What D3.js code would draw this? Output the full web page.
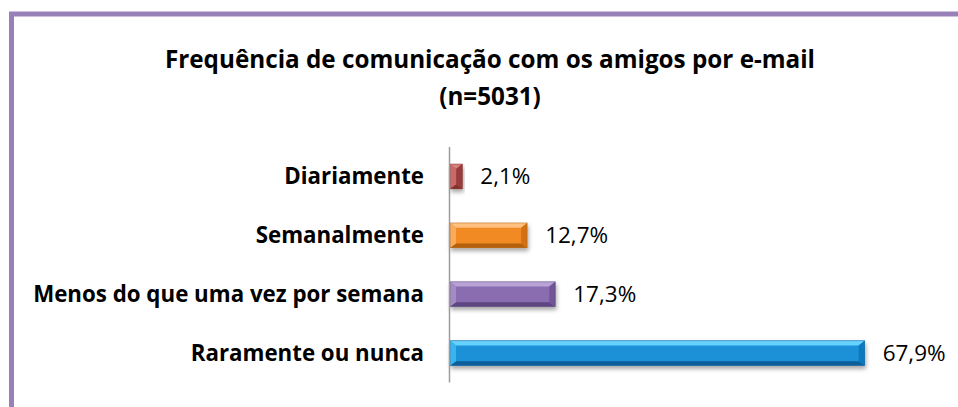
<!DOCTYPE html>
<html>
<head>
<meta charset="utf-8">
<script src="https://cdn.jsdelivr.net/npm/d3@7"></script>
<style>
  body { margin: 0; background: #fff; }
  svg { display: block; font-family: "Open Sans", "Noto Sans", sans-serif; }
</style>
</head>
<body>
<div class="chart"></div>
<script>
// Chart data
var categories = ["Diariamente", "Semanalmente", "Menos do que uma vez por semana", "Raramente ou nunca"];
var values = [2.1, 12.7, 17.3, 67.9];
var valueLabels = ["2,1%", "12,7%", "17,3%", "67,9%"];
var titleLines = ["Frequência de comunicação com os amigos por e-mail", "(n=5031)"];

// Bar colours: [top, left, centre, right, bottom]
var palette = [
  ["#d9827f", "#c96a67", "#b5504c", "#973e3b", "#7f302d"],
  ["#ffc080", "#fbaa5a", "#f18a24", "#d16f12", "#b3600e"],
  ["#b9a3d6", "#a38bc4", "#8a6cb0", "#715597", "#5c4680"],
  ["#66d2ff", "#38b5f0", "#1a91d8", "#0e78bd", "#0b5f99"]
];

var svgWidth = 958;
var svgHeight = 407;

var svg = d3.select(".chart")
  .append("svg")
  .attr("width", svgWidth)
  .attr("height", svgHeight);

var defs = svg.append("defs");
var shadow = defs.append("filter")
  .attr("id", "shadow")
  .attr("x", "-10%").attr("y", "-40%")
  .attr("width", "130%").attr("height", "200%");
shadow.append("feDropShadow")
  .attr("dx", 1).attr("dy", 3)
  .attr("stdDeviation", 2)
  .attr("flood-color", "#000")
  .attr("flood-opacity", 0.35);

// Purple frame (continues past the right and bottom edges)
svg.append("rect")
  .attr("x", 11.5)
  .attr("y", 14)
  .attr("width", 1100)
  .attr("height", 600)
  .attr("fill", "none")
  .attr("stroke", "#9a80b8")
  .attr("stroke-width", 5);

// Scales
var xScale = d3.scaleLinear().domain([0, 70]).range([449.5, 877.5]);
var yScale = d3.scaleBand()
  .domain(categories)
  .range([147, 382.5])
  .paddingInner(0.58)
  .paddingOuter(0.29);

// scale a text's font size so it takes the given width
function fitText(sel, target) {
  var w = sel.node().getComputedTextLength();
  var fs = parseFloat(sel.attr("font-size"));
  sel.attr("font-size", (fs * target / w).toFixed(2));
  return fs * target / w;
}

// Title
var title1 = svg.append("text")
  .attr("x", 490)
  .attr("y", 68)
  .attr("text-anchor", "middle")
  .attr("font-weight", "bold")
  .attr("font-size", 22)
  .attr("fill", "#000")
  .text(titleLines[0]);
var titleSize = fitText(title1, 650);

svg.append("text")
  .attr("x", 490)
  .attr("y", 105)
  .attr("text-anchor", "middle")
  .attr("font-weight", "bold")
  .attr("font-size", titleSize)
  .attr("fill", "#000")
  .text(titleLines[1]);

// Category labels
var catLabels = svg.selectAll(".cat")
  .data(categories)
  .enter()
  .append("text")
  .attr("class", "cat")
  .attr("x", 424)
  .attr("y", function(d) { return yScale(d) + yScale.bandwidth() / 2; })
  .attr("dy", "0.35em")
  .attr("text-anchor", "end")
  .attr("font-weight", "bold")
  .attr("font-size", 18)
  .attr("fill", "#000")
  .text(function(d) { return d; });

// size all category labels from the longest one
var longest = catLabels.filter(function(d, i) { return i === 2; });
var catSize = fitText(longest, 391);
catLabels.attr("font-size", catSize);

// Bars with a bevelled look
var bars = svg.selectAll(".bar")
  .data(values)
  .enter()
  .append("g")
  .attr("class", "bar")
  .attr("filter", "url(#shadow)");

bars.each(function(d, i) {
  var g = d3.select(this);
  var x0 = xScale(0) + 0.5;
  var x1 = xScale(d);
  var y0 = yScale(categories[i]);
  var y1 = y0 + yScale.bandwidth();
  var h = y1 - y0;
  var b = Math.min(6, (x1 - x0) / 2, h / 2 - 1);
  var c = palette[i];
  var pts = function(a) { return a.map(function(p) { return p.join(","); }).join(" "); };

  g.append("rect")
    .attr("x", x0).attr("y", y0)
    .attr("width", x1 - x0).attr("height", h)
    .attr("fill", c[2]);
  // top face
  g.append("polygon")
    .attr("points", pts([[x0, y0], [x1, y0], [x1 - b, y0 + b * 0.8], [x0 + b, y0 + b * 0.8]]))
    .attr("fill", c[0]);
  // bottom face
  g.append("polygon")
    .attr("points", pts([[x0, y1], [x1, y1], [x1 - b, y1 - b * 0.7], [x0 + b, y1 - b * 0.7]]))
    .attr("fill", c[4]);
  // left face
  g.append("polygon")
    .attr("points", pts([[x0, y0], [x0 + b, y0 + b * 0.8], [x0 + b, y1 - b * 0.7], [x0, y1]]))
    .attr("fill", c[1]);
  // right face
  g.append("polygon")
    .attr("points", pts([[x1, y0], [x1 - b, y0 + b * 0.8], [x1 - b, y1 - b * 0.7], [x1, y1]]))
    .attr("fill", c[3]);
  g.append("rect")
    .attr("x", x0).attr("y", y0)
    .attr("width", x1 - x0).attr("height", h)
    .attr("fill", "none")
    .attr("stroke", c[4])
    .attr("stroke-opacity", 0.6)
    .attr("stroke-width", 0.8);
});

// Value labels
var valLabels = svg.selectAll(".val")
  .data(values)
  .enter()
  .append("text")
  .attr("class", "val")
  .attr("x", function(d) { return xScale(d) + 18; })
  .attr("y", function(d, i) { return yScale(categories[i]) + yScale.bandwidth() / 2; })
  .attr("dy", "0.35em")
  .attr("font-size", 20)
  .attr("fill", "#000")
  .text(function(d, i) { return valueLabels[i]; });

var valSize = fitText(valLabels.filter(function(d, i) { return i === 3; }), 63);
valLabels.attr("font-size", valSize);

// Category axis line
svg.append("line")
  .attr("x1", xScale(0)).attr("x2", xScale(0))
  .attr("y1", yScale.range()[0])
  .attr("y2", yScale.range()[1])
  .attr("stroke", "#9c9c9c")
  .attr("stroke-width", 1.5);
</script>
</body>
</html>
